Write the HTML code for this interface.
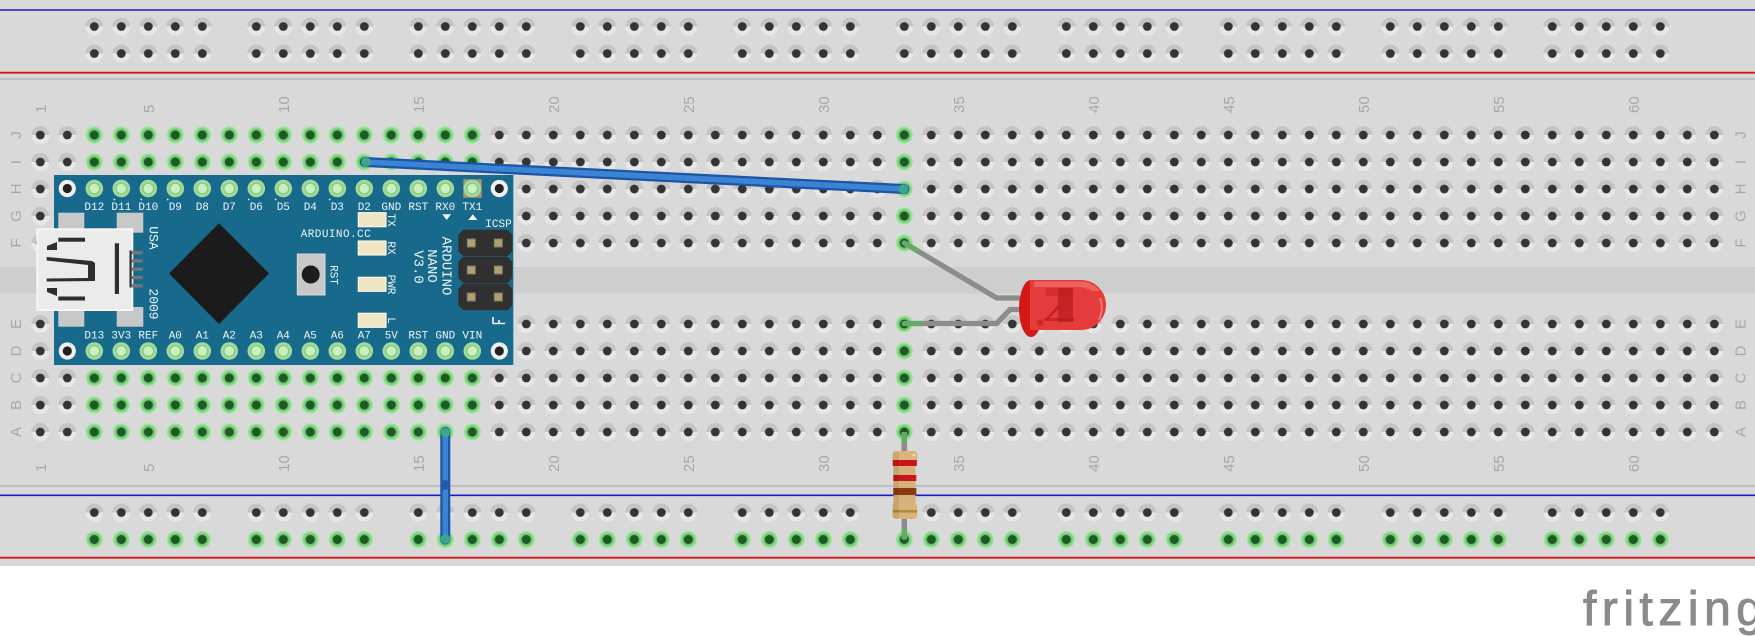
<!DOCTYPE html>
<html><head><meta charset="utf-8">
<style>
html,body{margin:0;padding:0;background:#fff;width:1755px;height:636px;overflow:hidden}
svg{display:block}
.bl{fill:#a8a8a8;font-family:"Liberation Sans",sans-serif;font-size:15px}
.w{fill:#eef5f7;font-family:"Liberation Mono",monospace;font-size:11px}
.wm{fill:#eef5f7;font-family:"Liberation Mono",monospace;font-size:11px;text-anchor:middle}
.wb{fill:#eef5f7;font-family:"Liberation Mono",monospace;font-size:14px;text-anchor:middle}
.w13{fill:#eef5f7;font-family:"Liberation Mono",monospace;font-size:13px;text-anchor:middle}
</style></head>
<body>
<svg width="1755" height="636" viewBox="0 0 1755 636" xmlns="http://www.w3.org/2000/svg" xmlns:xlink="http://www.w3.org/1999/xlink">
<defs>
<radialGradient id="gg"><stop offset="0.45" stop-color="#56b95b"/><stop offset="1" stop-color="#b9ecb5"/></radialGradient>
<pattern id="hp" x="26.8" y="121.5" width="27" height="27" patternUnits="userSpaceOnUse">
<circle cx="13.5" cy="13.5" r="9" fill="#e7e7e7"/><path d="M4.5 13.5A9 9 0 0 1 22.5 13.5Z" fill="#c4c4c4"/><circle cx="13.5" cy="13.5" r="4.4" fill="#343434"/>
</pattern>
<pattern id="gp" x="26.8" y="121.5" width="27" height="27" patternUnits="userSpaceOnUse">
<circle cx="13.5" cy="13.5" r="9" fill="url(#gg)"/><circle cx="13.5" cy="13.5" r="4.5" fill="#1f5a26"/>
</pattern>
<pattern id="rp" x="26.8" y="13" width="27" height="27" patternUnits="userSpaceOnUse">
<circle cx="13.5" cy="13.5" r="9" fill="#e7e7e7"/><path d="M4.5 13.5A9 9 0 0 1 22.5 13.5Z" fill="#c4c4c4"/><circle cx="13.5" cy="13.5" r="4.4" fill="#343434"/>
</pattern>
<pattern id="rg" x="26.8" y="13" width="27" height="27" patternUnits="userSpaceOnUse">
<circle cx="13.5" cy="13.5" r="9" fill="url(#gg)"/><circle cx="13.5" cy="13.5" r="4.5" fill="#1f5a26"/>
</pattern>
<g id="pin"><circle r="8.8" fill="#a1db9c"/><circle r="5.4" fill="#c8f0c0" stroke="#86c882" stroke-width="1.3"/></g>
<g id="mh"><circle r="8.6" fill="#efefef"/><circle r="4.6" fill="#222"/></g>
</defs>

<!-- breadboard -->
<rect x="0" y="0" width="1755" height="566" fill="#d9d9d9"/>
<rect x="0" y="267" width="1755" height="26.5" fill="#cecece"/>
<line x1="0" y1="10" x2="1755" y2="10" stroke="#1a1acb" stroke-width="1.6"/>
<line x1="0" y1="72.7" x2="1755" y2="72.7" stroke="#d41414" stroke-width="1.8"/>
<line x1="0" y1="79" x2="1755" y2="79" stroke="#b6b6b6" stroke-width="1.6"/>
<line x1="0" y1="486" x2="1755" y2="486" stroke="#b6b6b6" stroke-width="1.6"/>
<line x1="0" y1="495.3" x2="1755" y2="495.3" stroke="#1a1acb" stroke-width="1.6"/>
<line x1="0" y1="557.7" x2="1755" y2="557.7" stroke="#d41414" stroke-width="1.8"/>

<!-- main holes -->
<rect x="26.8" y="121.5" width="1701" height="135" fill="url(#hp)"/>
<rect x="26.8" y="310.5" width="1701" height="135" fill="url(#hp)"/>
<rect x="80.8" y="121.5" width="405" height="135" fill="url(#gp)"/>
<rect x="890.8" y="121.5" width="27" height="135" fill="url(#gp)"/>
<rect x="80.8" y="310.5" width="405" height="135" fill="url(#gp)"/>
<rect x="890.8" y="310.5" width="27" height="135" fill="url(#gp)"/>

<!-- rail holes -->
<g fill="url(#rp)">
<rect x="80.8" y="13" width="135" height="54"/><rect x="242.8" y="13" width="135" height="54"/><rect x="404.8" y="13" width="135" height="54"/><rect x="566.8" y="13" width="135" height="54"/><rect x="728.8" y="13" width="135" height="54"/><rect x="890.8" y="13" width="135" height="54"/><rect x="1052.8" y="13" width="135" height="54"/><rect x="1214.8" y="13" width="135" height="54"/><rect x="1376.8" y="13" width="135" height="54"/><rect x="1538.8" y="13" width="135" height="54"/>
<rect x="80.8" y="499" width="135" height="27"/><rect x="242.8" y="499" width="135" height="27"/><rect x="404.8" y="499" width="135" height="27"/><rect x="566.8" y="499" width="135" height="27"/><rect x="728.8" y="499" width="135" height="27"/><rect x="890.8" y="499" width="135" height="27"/><rect x="1052.8" y="499" width="135" height="27"/><rect x="1214.8" y="499" width="135" height="27"/><rect x="1376.8" y="499" width="135" height="27"/><rect x="1538.8" y="499" width="135" height="27"/>
</g>
<g fill="url(#rg)">
<rect x="80.8" y="526" width="135" height="27"/><rect x="242.8" y="526" width="135" height="27"/><rect x="404.8" y="526" width="135" height="27"/><rect x="566.8" y="526" width="135" height="27"/><rect x="728.8" y="526" width="135" height="27"/><rect x="890.8" y="526" width="135" height="27"/><rect x="1052.8" y="526" width="135" height="27"/><rect x="1214.8" y="526" width="135" height="27"/><rect x="1376.8" y="526" width="135" height="27"/><rect x="1538.8" y="526" width="135" height="27"/>
</g>

<!-- column numbers -->
<g class="bl">
<text transform="translate(45.8,113) rotate(-90)">1</text>
<text transform="translate(153.8,113) rotate(-90)">5</text>
<text transform="translate(288.8,113) rotate(-90)">10</text>
<text transform="translate(423.8,113) rotate(-90)">15</text>
<text transform="translate(558.8,113) rotate(-90)">20</text>
<text transform="translate(693.8,113) rotate(-90)">25</text>
<text transform="translate(828.8,113) rotate(-90)">30</text>
<text transform="translate(963.8,113) rotate(-90)">35</text>
<text transform="translate(1098.8,113) rotate(-90)">40</text>
<text transform="translate(1233.8,113) rotate(-90)">45</text>
<text transform="translate(1368.8,113) rotate(-90)">50</text>
<text transform="translate(1503.8,113) rotate(-90)">55</text>
<text transform="translate(1638.8,113) rotate(-90)">60</text>
<text transform="translate(45.8,472) rotate(-90)">1</text>
<text transform="translate(153.8,472) rotate(-90)">5</text>
<text transform="translate(288.8,472) rotate(-90)">10</text>
<text transform="translate(423.8,472) rotate(-90)">15</text>
<text transform="translate(558.8,472) rotate(-90)">20</text>
<text transform="translate(693.8,472) rotate(-90)">25</text>
<text transform="translate(828.8,472) rotate(-90)">30</text>
<text transform="translate(963.8,472) rotate(-90)">35</text>
<text transform="translate(1098.8,472) rotate(-90)">40</text>
<text transform="translate(1233.8,472) rotate(-90)">45</text>
<text transform="translate(1368.8,472) rotate(-90)">50</text>
<text transform="translate(1503.8,472) rotate(-90)">55</text>
<text transform="translate(1638.8,472) rotate(-90)">60</text>
</g>
<!-- row letters -->
<g class="bl" text-anchor="middle">
<text transform="translate(21,135) rotate(-90)">J</text>
<text transform="translate(21,162) rotate(-90)">I</text>
<text transform="translate(21,189) rotate(-90)">H</text>
<text transform="translate(21,216) rotate(-90)">G</text>
<text transform="translate(21,243) rotate(-90)">F</text>
<text transform="translate(21,324) rotate(-90)">E</text>
<text transform="translate(21,351) rotate(-90)">D</text>
<text transform="translate(21,378) rotate(-90)">C</text>
<text transform="translate(21,405) rotate(-90)">B</text>
<text transform="translate(21,432) rotate(-90)">A</text>
<text transform="translate(1745.5,135) rotate(-90)">J</text>
<text transform="translate(1745.5,162) rotate(-90)">I</text>
<text transform="translate(1745.5,189) rotate(-90)">H</text>
<text transform="translate(1745.5,216) rotate(-90)">G</text>
<text transform="translate(1745.5,243) rotate(-90)">F</text>
<text transform="translate(1745.5,324) rotate(-90)">E</text>
<text transform="translate(1745.5,351) rotate(-90)">D</text>
<text transform="translate(1745.5,378) rotate(-90)">C</text>
<text transform="translate(1745.5,405) rotate(-90)">B</text>
<text transform="translate(1745.5,432) rotate(-90)">A</text>
</g>

<!-- Arduino Nano -->
<rect x="54" y="175" width="459.3" height="190" fill="#176a8b"/>
<g fill="#c8c8c8">
<rect x="58.3" y="212.7" width="26" height="20"/><rect x="116.7" y="212.7" width="26.6" height="20"/>
<rect x="58.3" y="307" width="26" height="19.7"/><rect x="116.7" y="307" width="26.6" height="19.7"/>
</g>
<rect x="37.3" y="229.3" width="95" height="80.7" fill="#ebebeb" stroke="#f6f6f6" stroke-width="2"/>
<g fill="#2e2e2e">
<rect x="58.3" y="237.7" width="26.7" height="4"/>
<rect x="58.3" y="296.5" width="26.7" height="4"/>
<polygon points="47,246 57,242 57,250 47,250"/>
<polygon points="47,288 57,288 57,296 47,292"/>
<polygon points="46.7,257 92,261 95,263 95,281 46.7,281.5 46.7,278.5 88,278 88,265 46.7,260.5"/>
<rect x="114.8" y="243.3" width="4.2" height="50.7"/>
<rect x="129.5" y="250.5" width="2.2" height="37"/>
</g>
<g fill="#777">
<rect x="131.7" y="251" width="11" height="3.2"/><rect x="131.7" y="259.3" width="11" height="3.2"/><rect x="131.7" y="267.6" width="11" height="3.2"/><rect x="131.7" y="275.9" width="11" height="3.2"/><rect x="131.7" y="284.2" width="11" height="3.2"/>
</g>
<text class="w13" transform="translate(149.7,238) rotate(90)">USA</text>
<text class="w13" transform="translate(149.7,304) rotate(90)">2009</text>

<polygon points="219,223.3 269,273.5 219,324 169,273.5" fill="#1b1b1b"/>

<rect x="297.3" y="254" width="27.7" height="41" fill="#c8c8c8" stroke="#d9d9d9" stroke-width="1"/>
<circle cx="310.7" cy="274.5" r="9" fill="#1d1d1d"/>
<text class="wm" transform="translate(330.4,275) rotate(90)">RST</text>

<g fill="#efe4c4" stroke="#fbf5e4" stroke-width="1.2">
<rect x="358.3" y="212.7" width="27.7" height="14"/>
<rect x="358.3" y="241" width="27.7" height="14"/>
<rect x="358.3" y="277.3" width="27.7" height="14"/>
<rect x="358.3" y="313.3" width="27.7" height="14"/>
</g>
<text class="wm" transform="translate(388,220) rotate(90)">TX</text>
<text class="wm" transform="translate(388,248) rotate(90)">RX</text>
<text class="wm" transform="translate(388,284.5) rotate(90)">PWR</text>
<text class="wm" transform="translate(388,320.5) rotate(90)">L</text>
<text class="w" x="300.7" y="237" textLength="70" lengthAdjust="spacing">ARDUINO.CC</text>

<text class="wb" transform="translate(442.5,266) rotate(90)">ARDUINO</text>
<text class="wb" transform="translate(428,266) rotate(90)">NANO</text>
<text class="wb" transform="translate(414.5,267) rotate(90)">V3.0</text>

<g fill="#303030">
<polygon points="463.3,229.7 507.3,229.7 512.3,234.7 512.3,251.3 507.3,256.3 463.3,256.3 458.3,251.3 458.3,234.7"/>
<polygon points="463.3,256.7 507.3,256.7 512.3,261.7 512.3,278.3 507.3,283.3 463.3,283.3 458.3,278.3 458.3,261.7"/>
<polygon points="463.3,283.7 507.3,283.7 512.3,288.7 512.3,305.3 507.3,310.3 463.3,310.3 458.3,305.3 458.3,288.7"/>
</g>
<g fill="#ad9f78" stroke="#857a5a" stroke-width="1">
<rect x="467.3" y="239" width="8" height="8"/><rect x="494.3" y="239" width="8" height="8"/>
<rect x="467.3" y="266" width="8" height="8"/><rect x="494.3" y="266" width="8" height="8"/>
<rect x="467.3" y="293" width="8" height="8"/><rect x="494.3" y="293" width="8" height="8"/>
</g>
<text class="wm" x="498.5" y="227">ICSP</text>
<path d="M493,317 L493,323.5 L505,323.5 M499,323.5 L499,320" stroke="#eef5f7" stroke-width="1.6" fill="none"/>
<polygon points="442.3,214.3 451,214.3 446.7,220" fill="#eef5f7"/>
<polygon points="468.3,220 477.3,220 472.8,214.3" fill="#eef5f7"/>

<rect x="463.3" y="179.3" width="18.4" height="18.4" fill="#a89a6e"/>

<use href="#mh" xlink:href="#mh" x="67.3" y="188.5"/>
<use href="#mh" xlink:href="#mh" x="499.3" y="188.5"/>
<use href="#mh" xlink:href="#mh" x="67.3" y="351"/>
<use href="#mh" xlink:href="#mh" x="499.3" y="351"/>
<g>
<use href="#pin" xlink:href="#pin" x="94.3" y="188.5"/><use href="#pin" xlink:href="#pin" x="121.3" y="188.5"/><use href="#pin" xlink:href="#pin" x="148.3" y="188.5"/><use href="#pin" xlink:href="#pin" x="175.3" y="188.5"/><use href="#pin" xlink:href="#pin" x="202.3" y="188.5"/><use href="#pin" xlink:href="#pin" x="229.3" y="188.5"/><use href="#pin" xlink:href="#pin" x="256.3" y="188.5"/><use href="#pin" xlink:href="#pin" x="283.3" y="188.5"/><use href="#pin" xlink:href="#pin" x="310.3" y="188.5"/><use href="#pin" xlink:href="#pin" x="337.3" y="188.5"/><use href="#pin" xlink:href="#pin" x="364.3" y="188.5"/><use href="#pin" xlink:href="#pin" x="391.3" y="188.5"/><use href="#pin" xlink:href="#pin" x="418.3" y="188.5"/><use href="#pin" xlink:href="#pin" x="445.3" y="188.5"/><use href="#pin" xlink:href="#pin" x="472.3" y="188.5"/>
<use href="#pin" xlink:href="#pin" x="94.3" y="351"/><use href="#pin" xlink:href="#pin" x="121.3" y="351"/><use href="#pin" xlink:href="#pin" x="148.3" y="351"/><use href="#pin" xlink:href="#pin" x="175.3" y="351"/><use href="#pin" xlink:href="#pin" x="202.3" y="351"/><use href="#pin" xlink:href="#pin" x="229.3" y="351"/><use href="#pin" xlink:href="#pin" x="256.3" y="351"/><use href="#pin" xlink:href="#pin" x="283.3" y="351"/><use href="#pin" xlink:href="#pin" x="310.3" y="351"/><use href="#pin" xlink:href="#pin" x="337.3" y="351"/><use href="#pin" xlink:href="#pin" x="364.3" y="351"/><use href="#pin" xlink:href="#pin" x="391.3" y="351"/><use href="#pin" xlink:href="#pin" x="418.3" y="351"/><use href="#pin" xlink:href="#pin" x="445.3" y="351"/><use href="#pin" xlink:href="#pin" x="472.3" y="351"/>
</g>
<g class="wm">
<text x="94.3" y="210">D12</text><text x="121.3" y="210">D11</text><text x="148.3" y="210">D10</text><text x="175.3" y="210">D9</text><text x="202.3" y="210">D8</text><text x="229.3" y="210">D7</text><text x="256.3" y="210">D6</text><text x="283.3" y="210">D5</text><text x="310.3" y="210">D4</text><text x="337.3" y="210">D3</text><text x="364.3" y="210">D2</text><text x="391.3" y="210">GND</text><text x="418.3" y="210">RST</text><text x="445.3" y="210">RX0</text><text x="472.3" y="210">TX1</text>
<text x="94.3" y="338.5">D13</text><text x="121.3" y="338.5">3V3</text><text x="148.3" y="338.5">REF</text><text x="175.3" y="338.5">A0</text><text x="202.3" y="338.5">A1</text><text x="229.3" y="338.5">A2</text><text x="256.3" y="338.5">A3</text><text x="283.3" y="338.5">A4</text><text x="310.3" y="338.5">A5</text><text x="337.3" y="338.5">A6</text><text x="364.3" y="338.5">A7</text><text x="391.3" y="338.5">5V</text><text x="418.3" y="338.5">RST</text><text x="445.3" y="338.5">GND</text><text x="472.3" y="338.5">VIN</text>
</g>
<g fill="#eef5f7">
<circle cx="114.3" cy="199.5" r="0.9"/><circle cx="141.3" cy="199.5" r="0.9"/><circle cx="167.7" cy="199.5" r="0.9"/><circle cx="248.7" cy="199.5" r="0.9"/><circle cx="275.7" cy="199.5" r="0.9"/><circle cx="329.7" cy="199.5" r="0.9"/>
</g>

<!-- Wire 1 -->
<line x1="365.3" y1="162" x2="904.3" y2="189" stroke="#1b55a6" stroke-width="10" stroke-linecap="round"/>
<line x1="365.3" y1="162" x2="904.3" y2="189" stroke="#3b84d4" stroke-width="5.5" stroke-linecap="round"/>
<circle cx="366" cy="162" r="4.8" fill="#3ea58e"/>
<circle cx="903.6" cy="189" r="4.8" fill="#3ea58e"/>

<!-- Wire 2 -->
<path d="M445.3,432 L445.3,485 L445.3,539.5" stroke="#1b55a6" stroke-width="10" stroke-linecap="round" fill="none"/>
<path d="M445.3,432 L445.3,485 L445.3,539.5" stroke="#3b84d4" stroke-width="5.5" stroke-linecap="round" fill="none"/>
<circle cx="445.3" cy="485" r="5" fill="#1f5cae"/>
<circle cx="445.3" cy="432.5" r="4.8" fill="#3ea58e"/>
<circle cx="445.3" cy="539" r="4.8" fill="#3ea58e"/>

<!-- LED legs -->
<polyline points="904.3,243 996.7,298 1026,298" stroke="#8c8c8c" stroke-width="5.3" fill="none"/>
<polyline points="904.3,323.5 996.7,323.5 1010,309.5 1026,309.5" stroke="#8c8c8c" stroke-width="5.3" fill="none"/>
<line x1="904.3" y1="243" x2="919" y2="251.7" stroke="#6aa86a" stroke-width="5.3"/>
<line x1="904.3" y1="323.5" x2="923" y2="323.5" stroke="#6aa86a" stroke-width="5.3"/>
<circle cx="904.3" cy="243" r="2.6" fill="#6aa86a"/>
<circle cx="904.3" cy="323.5" r="2.6" fill="#6aa86a"/>

<!-- LED body -->
<ellipse cx="1031" cy="308.5" rx="12" ry="28.5" fill="#d41818"/>
<path d="M1030,280 L1081,280 A25,25 0 0 1 1081,330 L1030,330 Z" fill="#e53b3b"/>
<path d="M1034,281.5 L1081,281.5 A23.5,23.5 0 0 1 1100,291 L1092,291 Q1085,287 1078,287 L1034,287 Z" fill="#f27a7a" opacity="0.6"/>
<rect x="1046" y="288" width="27" height="8" fill="#c42424" opacity="0.55"/>
<rect x="1058" y="288" width="15" height="34" fill="#b81c1c" opacity="0.7"/>
<line x1="1046" y1="320" x2="1060" y2="305" stroke="#b81c1c" stroke-width="2.5" opacity="0.8"/>
<rect x="1044" y="318" width="30" height="3" fill="#b81c1c" opacity="0.6"/>
<circle cx="1040" cy="322.7" r="3.5" fill="#c82020" opacity="0.7"/>
<path d="M1100,298 Q1104,308 1099,320" stroke="#f59090" stroke-width="2" fill="none" opacity="0.7"/>

<!-- Resistor -->
<line x1="904.3" y1="432" x2="904.3" y2="539.5" stroke="#8c8c8c" stroke-width="5.5"/>
<line x1="904.3" y1="432" x2="904.3" y2="444" stroke="#6aa86a" stroke-width="5.5"/>
<line x1="904.3" y1="528" x2="904.3" y2="539.5" stroke="#6aa86a" stroke-width="5.5"/>
<rect x="893.5" y="460" width="22" height="48" fill="#d6b27a"/>
<rect x="892.3" y="451" width="25" height="16" rx="4" fill="#d9b57c"/>
<rect x="892.3" y="503" width="25" height="16" rx="4" fill="#d9b57c"/>
<rect x="892.8" y="460" width="24" height="6" fill="#c8161c"/>
<rect x="893.3" y="475" width="23" height="6" fill="#c8161c"/>
<rect x="893.3" y="488" width="23" height="7" fill="#8b3a10"/>
<rect x="893" y="510" width="24" height="2.6" fill="#a8903c"/>
<rect x="893" y="452" width="6" height="66" fill="#000" opacity="0.08"/>
<circle cx="914" cy="455" r="1.5" fill="#f3ddb0"/>

<!-- fritzing logo -->
<text x="1583" y="625" font-family="Liberation Sans, sans-serif" font-size="48" fill="#8a8a8a" stroke="#8a8a8a" stroke-width="1" textLength="180" lengthAdjust="spacing">fritzing</text>
</svg>
</body></html>
